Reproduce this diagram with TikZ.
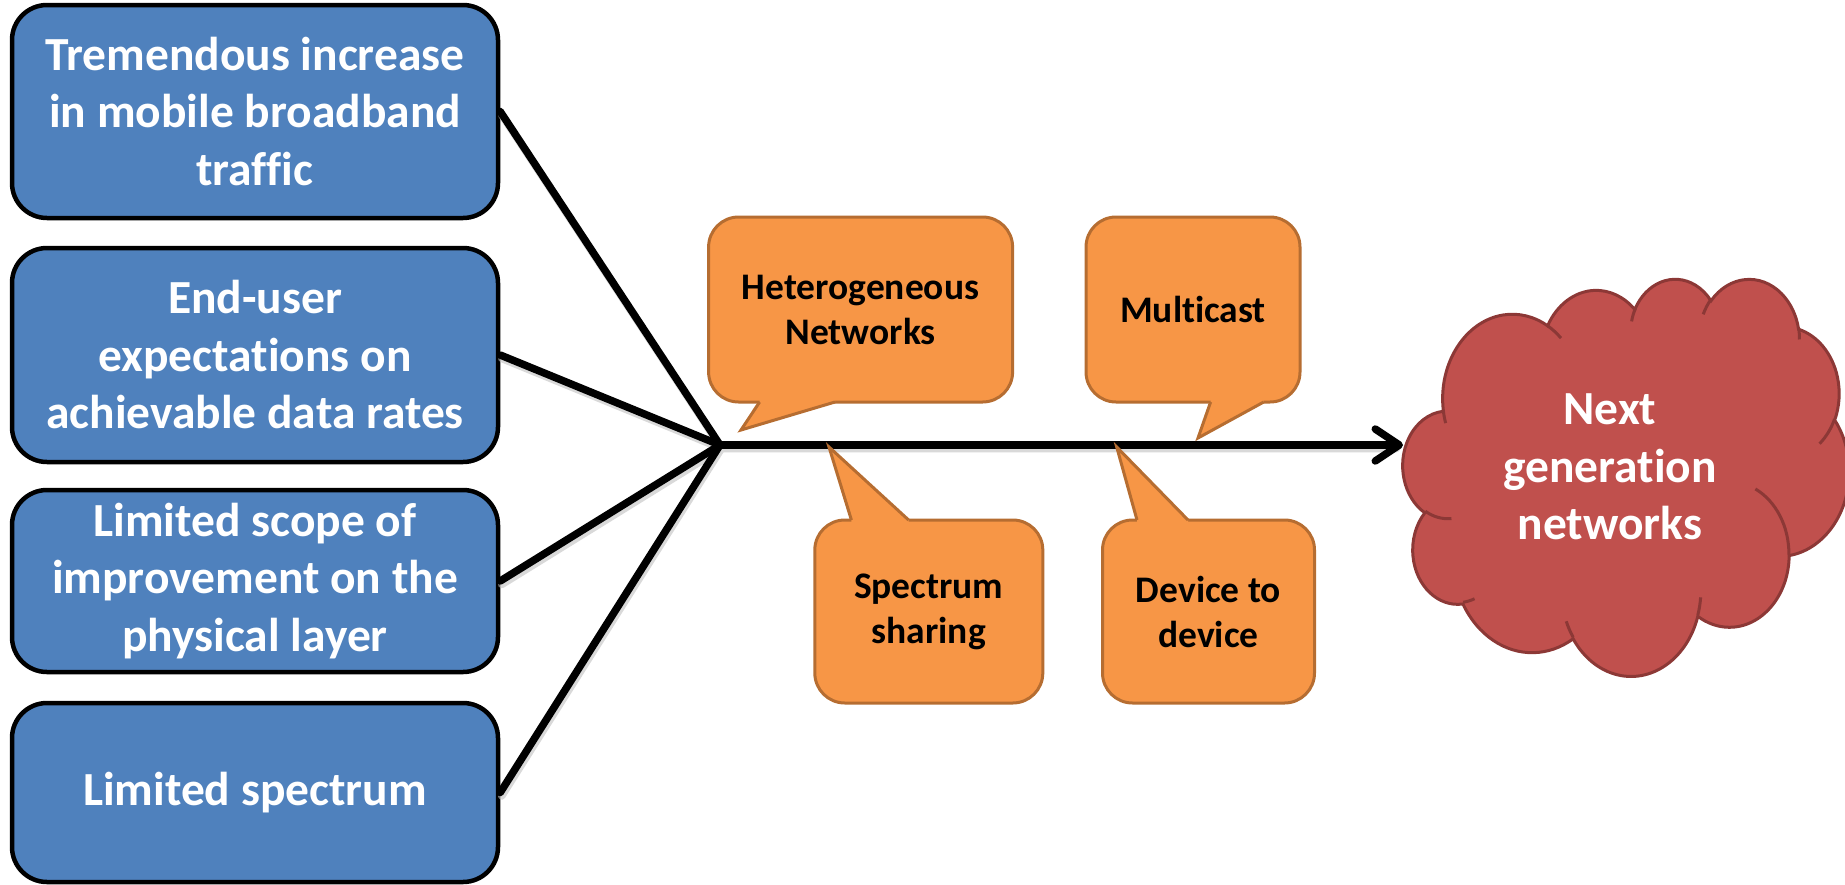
\documentclass[tikz,border=0pt]{standalone}
\usepackage{fontspec}
\setmainfont{Carlito}[Ligatures=NoCommon]
\usetikzlibrary{arrows.meta}
\definecolor{boxblue}{HTML}{4F81BD}
\definecolor{orfill}{HTML}{F79646}
\definecolor{ordraw}{HTML}{B66D31}
\definecolor{cloudfill}{HTML}{C0504D}
\definecolor{clouddraw}{HTML}{8C3836}
\newcommand\cloudarc[4]{%
  \pgfmathsetmacro\cst{#3}%
  \pgfmathsetmacro\cen{#3+#4}%
  \pgfmathsetmacro\tst{atan2(#1*sin(\cst),#2*cos(\cst))}%
  \pgfmathsetmacro\ten{atan2(#1*sin(\cen),#2*cos(\cen))}%
  \pgfmathsetmacro\dd{\ten-\tst}%
  \pgfmathsetmacro\dd{\dd+360*round((#4-\dd)/360)}%
  \xdef\cloudA{\tst}\xdef\cloudD{\dd}}
\newcommand\carc[4]{\pgfextra{\cloudarc{#1}{#2}{#3}{#4}} arc[start angle=\cloudA, delta angle=\cloudD, x radius=#1, y radius=#2]}
\begin{document}
\begin{tikzpicture}[x=1pt,y=-1pt,
  bluebox/.style={rectangle, rounded corners=35pt, draw=black, line width=4.5pt, fill=boxblue,
    text=white, minimum width=486pt, align=center, inner sep=0pt,
    font=\bfseries\fontsize{47.5}{57.5}\selectfont},
  callbox/.style={rectangle, rounded corners=30pt, draw=ordraw, line width=3pt, fill=orfill,
    text=black, align=center, inner sep=0pt,
    font=\bfseries\fontsize{37.5}{45}\selectfont},
  tailfill/.style={fill=orfill},
  tailline/.style={draw=ordraw, line width=3pt, line join=miter},
  spoke/.style={line width=7.5pt, line cap=round},
  spokeshadow/.style={line width=7.5pt, line cap=round, draw=black!25, opacity=0.6, transform canvas={shift={(1.5pt,-3.5pt)}}},
  cloudshape/.style={fill=cloudfill, draw=clouddraw, line width=3pt},
  cloudline/.style={draw=clouddraw, line width=3pt},
  cloudtext/.style={text=white, align=center, font=\bfseries\fontsize{47.5}{57.5}\selectfont}]
\useasboundingbox (0,0) rectangle (1845,884);

% blue cause boxes
\node[bluebox, minimum height=213pt] (b1) at (255,111.5) {Tremendous increase\\in mobile broadband\\traffic};
\node[bluebox, minimum height=214pt] (b2) at (255,355) {End-user\\expectations on\\achievable data rates};
\node[bluebox, minimum height=182pt] (b3) at (255,581) {Limited scope of\\improvement on the\\physical layer};
\node[bluebox, minimum height=179pt] (b4) at (255,792.5) {Limited spectrum};

% spokes and main arrow
\coordinate (hub) at (720,445);
\coordinate (cloudW) at (1403,445);
\coordinate (shaftend) at (1395,445);
\draw[spokeshadow] (b1.east) -- (hub) (b2.east) -- (hub) (b3.east) -- (hub) (b4.east) -- (hub) (hub) -- (shaftend);
\draw[spoke] (b1.east) -- (hub);
\draw[spoke] (b2.east) -- (hub);
\draw[spoke] (b3.east) -- (hub);
\draw[spoke] (b4.east) -- (hub);
\draw[line width=7.5pt, -{Straight Barb[length=24pt,width=32pt,round]}] (hub) -- (cloudW);

% callouts
\node[callbox, minimum width=304pt, minimum height=185pt] (het) at (860.6,309.5) {Heterogeneous\\Networks};
\fill[tailfill] (759.6,397) -- (759.6,402) -- (741,430) -- (835,402) -- (835,397) -- cycle;
\draw[tailline] (759.6,402) -- (741,430) -- (835,402);

\node[callbox, minimum width=214pt, minimum height=185pt] (mul) at (1193,309.5) {Multicast};
\fill[tailfill] (1210.6,397) -- (1210.6,402) -- (1198,438) -- (1263.7,402) -- (1263.7,397) -- cycle;
\draw[tailline] (1210.6,402) -- (1198,438) -- (1263.7,402);

\node[callbox, minimum width=228pt, minimum height=183pt] (spe) at (928.8,611.5) {Spectrum\\sharing};
\fill[tailfill] (851.4,525) -- (851.4,520) -- (829,447) -- (908.6,520) -- (908.6,525) -- cycle;
\draw[tailline] (851.4,520) -- (829,447) -- (908.6,520);

\node[callbox, minimum width=212pt, minimum height=183pt] (dev) at (1208.5,611.5) {Device to\\device};
\fill[tailfill] (1137,525) -- (1137,520) -- (1116.7,447) -- (1188,520) -- (1188,525) -- cycle;
\draw[tailline] (1137,520) -- (1116.7,447) -- (1188,520);

% cloud
\begin{scope}[shift={(1403,278)}, x={(10.324pt,0pt)}, y={(0pt,-9.19pt)}]
\path[cloudshape] (3.900,14.370)
  \carc{6.753}{9.190}{-190.4875}{123.7805}
  \carc{5.333}{7.267}{-144.1024}{89.9452}
  \carc{4.365}{5.945}{-145.8079}{99.7230}
  \carc{4.857}{6.595}{-130.9861}{117.2417}
  \carc{5.333}{7.273}{-78.7089}{109.0269}
  \carc{6.775}{9.220}{-46.2673}{130.2690}
  \carc{5.785}{7.867}{0.6250}{114.0333}
  \carc{6.752}{9.215}{22.4516}{115.1726}
  \carc{7.720}{10.543}{66.2426}{75.7110}
  \carc{4.360}{5.918}{-274.9421}{146.7356}
  \carc{4.345}{5.945}{-246.8285}{152.5189}
  -- cycle;
\path[cloudline]
  (4.693,26.177) \carc{4.345}{5.945}{86.7420}{26.4295}
  (6.928,34.899) \carc{4.360}{5.918}{73.6105}{11.4475}
  (16.478,39.090) \carc{6.752}{9.215}{137.6242}{14.0811}
  (28.827,34.751) \carc{6.752}{9.215}{6.4533}{15.9984}
  (34.129,22.954) \carc{5.785}{7.867}{-70.2924}{70.9174}
  (41.798,15.354) \carc{5.333}{7.273}{30.3180}{27.7515}
  (38.324,5.426) \carc{4.857}{6.595}{-13.7443}{14.8589}
  (29.078,3.952) \carc{4.857}{6.595}{-149.1815}{18.1954}
  (22.141,4.720) \carc{4.365}{5.945}{-163.4943}{17.6864}
  (14.000,5.192) \carc{6.753}{9.190}{-66.7070}{12.3194}
  (4.127,15.789) \carc{6.753}{9.190}{157.6544}{11.8582};
\end{scope}
\node[cloudtext] (ngn) at (1610,467) {Next\\generation\\networks};
\end{tikzpicture}
\end{document}
